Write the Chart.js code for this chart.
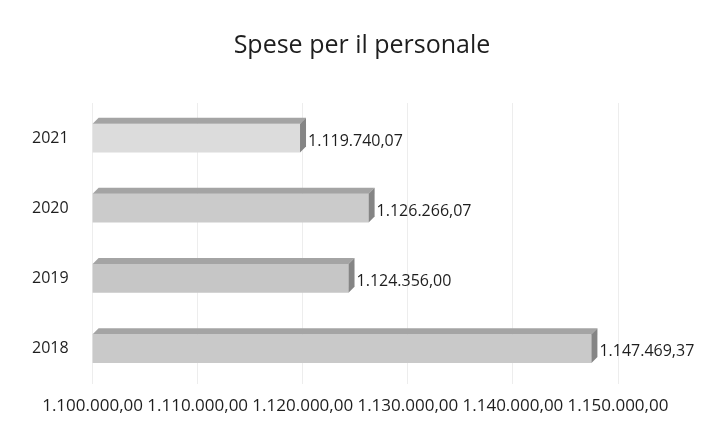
<!DOCTYPE html>
<html>
<head>
<meta charset="utf-8">
<script src="https://cdn.jsdelivr.net/npm/chart.js@4/dist/chart.umd.min.js"></script>
<style>
  html, body { margin: 0; padding: 0; background: #fff; }
  #wrap { width: 718px; height: 428px; }
</style>
</head>
<body>
<div id="wrap"><canvas id="chart" width="718" height="428"></canvas></div>
<script>
const years = ['2021', '2020', '2019', '2018'];
const spese = [1119740.07, 1126266.07, 1124356.00, 1147469.37];
const xMin = 1100000;
const xMax = 1150000;
const xStep = 10000;
const titolo = 'Spese per il personale';

// formato italiano: 1.234.567,89
function fmt(n) {
  const parts = n.toFixed(2).split('.');
  const intPart = parts[0].replace(/\B(?=(\d{3})+(?!\d))/g, '.');
  return intPart + ',' + parts[1];
}

const FONT = '"Open Sans", "Liberation Sans", sans-serif';
const depth = 6;

// titolo centrato sulla pagina intera
const titlePlugin = {
  id: 'centerTitle',
  afterDraw(chart) {
    const ctx = chart.ctx;
    ctx.save();
    ctx.fillStyle = '#1e1e1e';
    ctx.font = '25px ' + FONT;
    ctx.textAlign = 'center';
    ctx.textBaseline = 'middle';
    ctx.fillText(titolo, chart.width / 2 + 3, 46);
    ctx.restore();
  }
};

// piccolo effetto 3D: faccia superiore e laterale + etichette valore
const bar3d = {
  id: 'bar3d',
  afterDatasetsDraw(chart) {
    const ctx = chart.ctx;
    const area = chart.chartArea;
    const meta = chart.getDatasetMeta(0);
    meta.data.forEach((bar, i) => {
      const p = bar.getProps(['x', 'y', 'base', 'height'], true);
      const left = Math.max(Math.min(p.base, p.x), area.left);
      const right = p.x;
      const top = p.y - p.height / 2;
      const bottom = p.y + p.height / 2;
      ctx.save();
      ctx.beginPath();
      ctx.moveTo(left, top);
      ctx.lineTo(left + depth, top - depth);
      ctx.lineTo(right + depth, top - depth);
      ctx.lineTo(right, top);
      ctx.closePath();
      ctx.fillStyle = '#a4a4a4';
      ctx.fill();
      ctx.beginPath();
      ctx.moveTo(right, top);
      ctx.lineTo(right + depth, top - depth);
      ctx.lineTo(right + depth, bottom - depth);
      ctx.lineTo(right, bottom);
      ctx.closePath();
      ctx.fillStyle = '#858585';
      ctx.fill();
      ctx.fillStyle = '#1e1e1e';
      ctx.font = '16px ' + FONT;
      ctx.textAlign = 'left';
      ctx.textBaseline = 'middle';
      ctx.fillText(fmt(spese[i]), right + depth + 2, p.y + 3);
      ctx.restore();
    });
  }
};

new Chart(document.getElementById('chart'), {
  type: 'bar',
  data: {
    labels: years,
    datasets: [{
      data: spese,
      backgroundColor: ['#dcdcdc', '#cbcbcb', '#c6c6c6', '#c9c9c9'],
      borderWidth: 0,
      barPercentage: 0.82,
      categoryPercentage: 0.5
    }]
  },
  options: {
    indexAxis: 'y',
    responsive: false,
    animation: false,
    layout: { padding: { top: 103, right: 100, left: 16, bottom: 0 } },
    plugins: {
      legend: { display: false },
      tooltip: { enabled: false },
      title: { display: false }
    },
    scales: {
      x: {
        min: xMin,
        max: xMax,
        ticks: {
          stepSize: xStep,
          color: '#1e1e1e',
          padding: 12,
          maxRotation: 0,
          minRotation: 0,
          autoSkip: false,
          font: { family: FONT, size: 17 },
          callback: v => fmt(v)
        },
        grid: { color: '#ededed', drawTicks: false },
        border: { display: false }
      },
      y: {
        ticks: {
          color: '#1e1e1e',
          padding: 16,
          font: { family: FONT, size: 16 }
        },
        grid: { display: false },
        border: { display: false }
      }
    }
  },
  plugins: [bar3d, titlePlugin]
});
</script>
</body>
</html>
